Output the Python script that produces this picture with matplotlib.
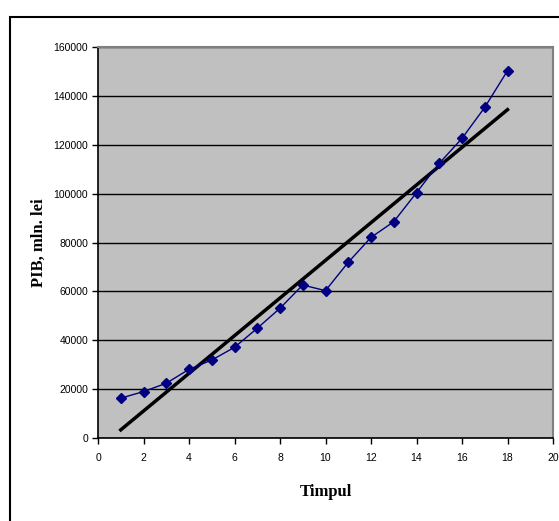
import numpy as np
import matplotlib
matplotlib.use("Agg")
import matplotlib.pyplot as plt
from matplotlib.patches import Rectangle

# time periods and PIB values (mln. lei)
timpul = [1, 2, 3, 4, 5, 6, 7, 8, 9, 10, 11, 12, 13, 14, 15, 16, 17, 18]
pib = [16300, 19000, 22400, 28100, 31900, 37100, 44900, 53100, 62600,
       60300, 71900, 82100, 88500, 100400, 112400, 122600, 135300, 150300]

x_ticks = list(range(0, 21, 2))
y_ticks = list(range(0, 160001, 20000))

fig = plt.figure(figsize=(5.59, 5.21), dpi=100)
ax = fig.add_axes([98 / 559, 1 - 438 / 521, 455 / 559, 391 / 521])

# outer chart frame (cut by the image edge on right and bottom)
fig.patches.append(Rectangle((10 / 559, -0.1), 1.2, 1 - 17 / 521 + 0.1,
                             transform=fig.transFigure, fill=False,
                             edgecolor="black", linewidth=1.5))

ax.set_facecolor("#c0c0c0")
ax.set_xlim(0, 20)
ax.set_ylim(0, 160000)
ax.set_xticks(x_ticks)
ax.set_yticks(y_ticks)
ax.grid(axis="y", color="black", linewidth=1)
ax.set_axisbelow(True)

# linear trend line
k, b = np.polyfit(timpul, pib, 1)
xs = np.array([timpul[0], timpul[-1]])
ax.plot(xs, k * xs + b, color="black", linewidth=2.5, zorder=3)

ax.plot(timpul, pib, color="#000080", linewidth=1, marker="D",
        markersize=5.5, markerfacecolor="#000080", markeredgecolor="#000080",
        zorder=4)

for s in ["top", "right"]:
    ax.spines[s].set_color("#808080")
    ax.spines[s].set_linewidth(1.5)
for s in ["left", "bottom"]:
    ax.spines[s].set_color("black")
    ax.spines[s].set_linewidth(1.2)

ax.tick_params(direction="out", length=4, width=1, labelsize=7.5,
               colors="black", pad=3)
ax.tick_params(axis="x", pad=7)
for lab in ax.get_xticklabels() + ax.get_yticklabels():
    lab.set_fontfamily("Liberation Sans")

ax.set_xlabel("Timpul", fontsize=12, fontweight="bold",
              fontfamily="Liberation Serif", labelpad=15)
ax.set_ylabel("PIB, mln. lei", fontsize=12, fontweight="bold",
              fontfamily="Liberation Serif", labelpad=5)

plt.savefig("out.png", dpi=100)
plt.close()
